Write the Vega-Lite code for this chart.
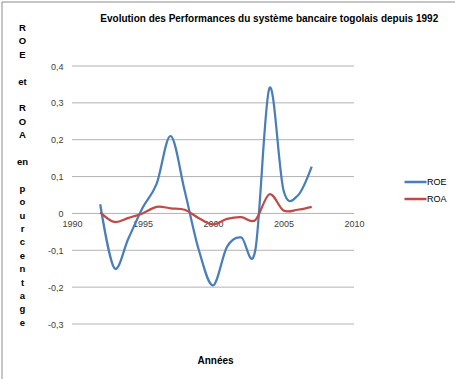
{
  "$schema": "https://vega.github.io/schema/vega-lite/v6.json",
  "width": 453.5,
  "height": 377.5,
  "autosize": {"type": "none"},
  "padding": {"left": 1.5, "top": 1.5, "right": 0, "bottom": 0},
  "background": "white",
  "config": {
    "view": {"stroke": "#8c8c8c", "strokeWidth": 1},
    "font": "Liberation Sans"
  },
  "title": {
    "text": "Evolution des Performances du système bancaire togolais depuis 1992",
    "anchor": "middle",
    "orient": "top",
    "baseline": "middle",
    "offset": 0,
    "dx": 41,
    "dy": 27,
    "fontSize": 10,
    "fontWeight": "bold",
    "font": "Liberation Sans",
    "color": "#000000"
  },
  "datasets": {
    "grid": [
      {"x1": 1990, "x2": 2010, "v": -0.3},
      {"x1": 1990, "x2": 2010, "v": -0.2},
      {"x1": 1990, "x2": 2010, "v": -0.1},
      {"x1": 1990, "x2": 2010, "v": 0},
      {"x1": 1990, "x2": 2010, "v": 0.1},
      {"x1": 1990, "x2": 2010, "v": 0.2},
      {"x1": 1990, "x2": 2010, "v": 0.3},
      {"x1": 1990, "x2": 2010, "v": 0.4}
    ],
    "series": [
      {"annee": 1992, "serie": "ROE", "valeur": 0.025},
      {"annee": 1993, "serie": "ROE", "valeur": -0.148},
      {"annee": 1994, "serie": "ROE", "valeur": -0.068},
      {"annee": 1995, "serie": "ROE", "valeur": 0.015},
      {"annee": 1996, "serie": "ROE", "valeur": 0.08},
      {"annee": 1997, "serie": "ROE", "valeur": 0.21},
      {"annee": 1998, "serie": "ROE", "valeur": 0.06},
      {"annee": 1999, "serie": "ROE", "valeur": -0.1},
      {"annee": 2000, "serie": "ROE", "valeur": -0.195},
      {"annee": 2001, "serie": "ROE", "valeur": -0.09},
      {"annee": 2002, "serie": "ROE", "valeur": -0.065},
      {"annee": 2003, "serie": "ROE", "valeur": -0.1},
      {"annee": 2004, "serie": "ROE", "valeur": 0.34},
      {"annee": 2005, "serie": "ROE", "valeur": 0.063},
      {"annee": 2006, "serie": "ROE", "valeur": 0.048},
      {"annee": 2007, "serie": "ROE", "valeur": 0.127},
      {"annee": 1992, "serie": "ROA", "valeur": 0.003},
      {"annee": 1993, "serie": "ROA", "valeur": -0.023},
      {"annee": 1994, "serie": "ROA", "valeur": -0.012},
      {"annee": 1995, "serie": "ROA", "valeur": 0.0},
      {"annee": 1996, "serie": "ROA", "valeur": 0.018},
      {"annee": 1997, "serie": "ROA", "valeur": 0.014},
      {"annee": 1998, "serie": "ROA", "valeur": 0.01},
      {"annee": 1999, "serie": "ROA", "valeur": -0.013},
      {"annee": 2000, "serie": "ROA", "valeur": -0.03},
      {"annee": 2001, "serie": "ROA", "valeur": -0.015},
      {"annee": 2002, "serie": "ROA", "valeur": -0.01},
      {"annee": 2003, "serie": "ROA", "valeur": -0.018},
      {"annee": 2004, "serie": "ROA", "valeur": 0.052},
      {"annee": 2005, "serie": "ROA", "valeur": 0.008},
      {"annee": 2006, "serie": "ROA", "valeur": 0.01},
      {"annee": 2007, "serie": "ROA", "valeur": 0.018}
    ]
  },
  "layer": [
    {
      "data": {"name": "grid"},
      "mark": {"type": "rule", "color": "#b3b3b3", "strokeWidth": 1},
      "encoding": {
        "x": {
          "field": "x1",
          "type": "quantitative",
          "scale": {"domain": [1985.0, 2017.163], "nice": false, "zero": false},
          "axis": {
            "orient": "bottom",
            "offset": -166,
            "values": [1990, 1995, 2000, 2005, 2010],
            "format": "d",
            "domain": false,
            "ticks": false,
            "grid": false,
            "labelPadding": 6,
            "labelFontSize": 9,
            "labelColor": "#404040",
            "labelFont": "Liberation Sans",
            "title": "Années",
            "titleFontSize": 10,
            "titleFontWeight": "bold",
            "titleFont": "Liberation Sans",
            "titleColor": "#000000",
            "titleX": 213.5,
            "titleY": 147,
            "titleBaseline": "middle",
            "titleAlign": "center"
          }
        },
        "x2": {"field": "x2"},
        "y": {
          "field": "v",
          "type": "quantitative",
          "scale": {"domain": [-0.4492, 0.575], "nice": false, "zero": false},
          "axis": {
            "orient": "left",
            "offset": -61.5,
            "values": [-0.3, -0.2, -0.1, 0, 0.1, 0.2, 0.3, 0.4],
            "labelExpr": "datum.value == 0 ? '0' : (datum.value < 0 ? '-' : '') + '0,' + round(abs(datum.value) * 10)",
            "domain": false,
            "ticks": false,
            "grid": false,
            "labelPadding": 0,
            "labelFontSize": 9,
            "labelColor": "#404040",
            "labelFont": "Liberation Sans",
            "title": ["R", "O", "E", "\u2800", "et", "\u2800", "R", "O", "A", "\u2800", "en", "\u2800", "p", "o", "u", "r", "c", "e", "n", "t", "a", "g", "e"],
            "titleAngle": 0,
            "titleAlign": "center",
            "titleBaseline": "top",
            "titleX": -41,
            "titleY": 21,
            "titleLineHeight": 13.4,
            "titleFontSize": 9.5,
            "titleFontWeight": "bold",
            "titleFont": "Liberation Sans",
            "titleColor": "#000000"
          }
        }
      }
    },
    {
      "data": {"name": "series"},
      "mark": {"type": "line", "interpolate": "cardinal", "strokeWidth": 2.25},
      "encoding": {
        "x": {"field": "annee", "type": "quantitative"},
        "y": {"field": "valeur", "type": "quantitative"},
        "color": {
          "field": "serie",
          "type": "nominal",
          "scale": {"domain": ["ROE", "ROA"], "range": ["#4a7ebb", "#be4b48"]},
          "legend": {
            "title": null,
            "orient": "none",
            "legendX": 401.5,
            "legendY": 173,
            "symbolType": "stroke",
            "symbolSize": 484,
            "symbolStrokeWidth": 2.5,
            "clipHeight": 15,
            "rowPadding": 2,
            "labelOffset": -1,
            "labelFontSize": 9,
            "labelFont": "Liberation Sans",
            "labelColor": "#000000"
          }
        }
      }
    }
  ]
}
